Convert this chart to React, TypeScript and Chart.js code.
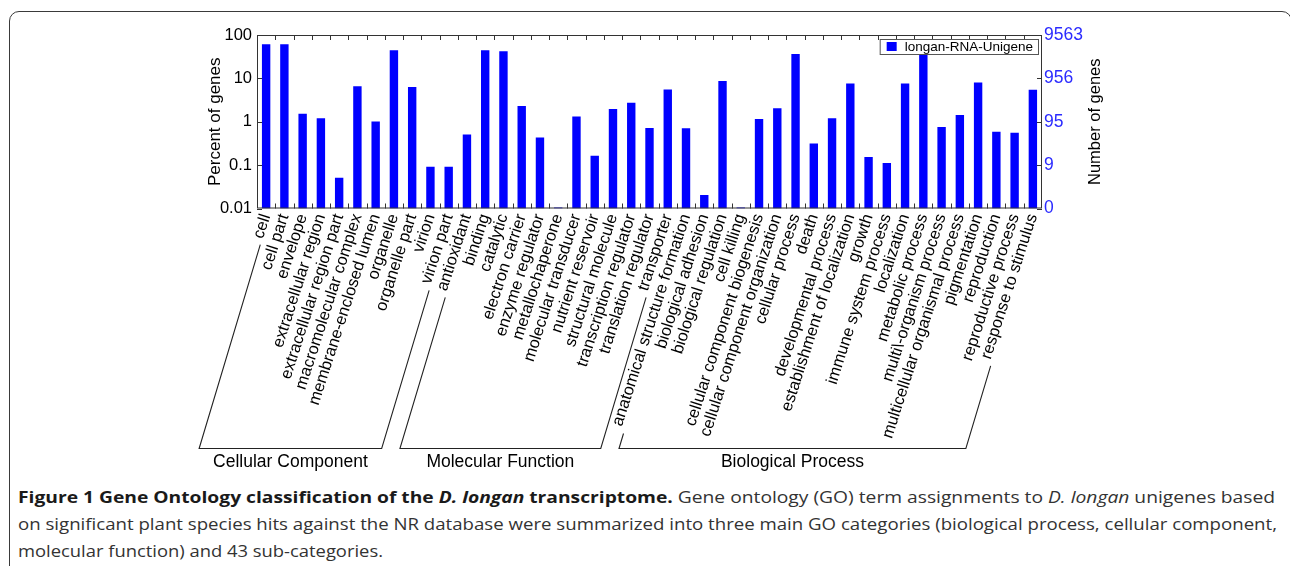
import React, { useEffect, useLayoutEffect, useRef } from 'react';
import { Chart, registerables } from 'chart.js';

Chart.register(...registerables);

// ---------- data ----------
const categories = [
  'cell', 'cell part', 'envelope', 'extracellular region', 'extracellular region part',
  'macromolecular complex', 'membrane-enclosed lumen', 'organelle', 'organelle part', 'virion',
  'virion part', 'antioxidant', 'binding', 'catalytic', 'electron carrier', 'enzyme regulator',
  'metallochaperone', 'molecular transducer', 'nutrient reservoir', 'structural molecule',
  'transcription regulator', 'translation regulator', 'transporter',
  'anatomical structure formation', 'biological adhesion', 'biological regulation', 'cell killing',
  'cellular component biogenesis', 'cellular component organization', 'cellular process', 'death',
  'developmental process', 'establishment of localization', 'growth', 'immune system process',
  'localization', 'metabolic process', 'multi\\-organism process', 'multicellular organismal process',
  'pigmentation', 'reproduction', 'reproductive process', 'response to stimulus',
];

const percentOfGenes = [
  61, 61, 1.52, 1.2, 0.051,
  6.6, 1.01, 44.6, 6.3, 0.092,
  0.092, 0.51, 44.6, 42.3, 2.31, 0.434,
  0.0105, 1.32, 0.165, 1.98,
  2.76, 0.72, 5.57,
  0.71, 0.0206, 8.67, 0.0105,
  1.16, 2.04, 36.7, 0.316,
  1.2, 7.64, 0.153, 0.112,
  7.64, 45, 0.76, 1.44,
  8.05, 0.59, 0.556, 5.48,
];

const seriesLabel = 'longan-RNA-Unigene';
const leftTickValues = [0.01, 0.1, 1, 10, 100];
const leftTickLabels = ['0.01', '0.1', '1', '10', '100'];
const rightTickLabels = ['0', '9', '95', '956', '9563'];
const groupNames = ['Cellular Component', 'Molecular Function', 'Biological Process'];
const groupFirstIndex = [0, 11, 23];
const groupLastIndex = [10, 22, 42];

// ---------- styles ----------
const FONT = '"Liberation Sans", Arial, Helvetica, sans-serif';
const BAR_BLUE = '#0000ff';
const AXIS_BLUE = '#2b2bff';
const INK = '#000000';
const FRAME = '#333333';
const LABEL_SIZE = 16.5;
const LABEL_ROTATION = 72;

const CANVAS_W = 1290;
const CANVAS_H = 480;

const decorPlugin = {
  id: 'decor',
  afterDraw(chart: any) {
    const { ctx, chartArea } = chart;
    const xs = chart.scales.x;
    const ys = chart.scales.y;
    const { left, right, top, bottom } = chartArea;
    ctx.save();

    // frame
    ctx.strokeStyle = FRAME;
    ctx.lineWidth = 1;
    ctx.strokeRect(left + 0.5, top + 0.5, right - left - 1, bottom - top - 1);

    // y ticks inward (both sides)
    ctx.beginPath();
    leftTickValues.forEach((v) => {
      const py = Math.round(ys.getPixelForValue(v)) + 0.5;
      ctx.moveTo(left, py);
      ctx.lineTo(left + 5, py);
      ctx.moveTo(right, py);
      ctx.lineTo(right - 5, py);
    });
    // x ticks inward, at category boundaries
    for (let i = 0; i < categories.length - 1; i++) {
      const px = Math.round((xs.getPixelForValue(i) + xs.getPixelForValue(i + 1)) / 2) + 0.5;
      ctx.moveTo(px, top);
      ctx.lineTo(px, top + 5);
      ctx.moveTo(px, bottom);
      ctx.lineTo(px, bottom - 5);
    }
    ctx.stroke();

    // legend
    ctx.font = `13.5px ${FONT}`;
    const tw = ctx.measureText(seriesLabel).width;
    const lw = tw + 30;
    const lh = 15;
    const lx = right - 4 - lw;
    const ly = top + 4;
    ctx.fillStyle = '#ffffff';
    ctx.fillRect(lx, ly, lw, lh);
    ctx.strokeStyle = '#555555';
    ctx.strokeRect(lx + 0.5, ly + 0.5, lw, lh);
    ctx.fillStyle = BAR_BLUE;
    ctx.fillRect(lx + 7, ly + 3, 10, 9);
    ctx.fillStyle = INK;
    ctx.textAlign = 'left';
    ctx.textBaseline = 'middle';
    ctx.fillText(seriesLabel, lx + 25, ly + lh / 2 + 1);

    // axis titles
    const midY = (top + bottom) / 2;
    ctx.fillStyle = INK;
    ctx.textAlign = 'center';
    ctx.textBaseline = 'middle';
    ctx.save();
    ctx.translate(left - 42, midY);
    ctx.rotate(-Math.PI / 2);
    ctx.font = `17px ${FONT}`;
    ctx.fillText('Percent of genes', 0, 0);
    ctx.restore();
    ctx.save();
    ctx.translate(right + 53, midY);
    ctx.rotate(-Math.PI / 2);
    ctx.font = `16.5px ${FONT}`;
    ctx.fillText('Number of genes', 0, 0);
    ctx.restore();

    // group brackets
    const slope = 0.3;
    const norm = Math.sqrt(1 + slope * slope);
    const ux = -slope / norm;
    const uy = 1 / norm;
    const baseY = bottom + 240;
    ctx.font = `${LABEL_SIZE}px ${FONT}`;
    ctx.strokeStyle = '#222222';
    ctx.lineWidth = 1.1;
    groupNames.forEach((name, g) => {
      const i0 = groupFirstIndex[g];
      const i1 = groupLastIndex[g];
      const x0 = xs.getPixelForValue(i0) + 5;
      const x1 = xs.getPixelForValue(i1) + 5;
      const w0 = ctx.measureText(categories[i0]).width + 13;
      const w1 = ctx.measureText(categories[i1]).width + 13;
      const t0 = { x: x0 + ux * w0, y: bottom + uy * w0 };
      const t1 = { x: x1 + ux * w1, y: bottom + uy * w1 };
      const b0 = { x: x0 - slope * (baseY - bottom), y: baseY };
      const b1 = { x: x1 - slope * (baseY - bottom), y: baseY };
      ctx.beginPath();
      ctx.moveTo(t0.x, t0.y);
      ctx.lineTo(b0.x, b0.y);
      ctx.lineTo(b1.x, b1.y);
      ctx.lineTo(t1.x, t1.y);
      ctx.stroke();
      ctx.save();
      ctx.font = `17.5px ${FONT}`;
      ctx.fillStyle = INK;
      ctx.textAlign = 'center';
      ctx.textBaseline = 'middle';
      ctx.fillText(name, (b0.x + b1.x) / 2, baseY + 14);
      ctx.restore();
    });

    ctx.restore();
  },
};

function GoChart() {
  const ref = useRef<HTMLCanvasElement | null>(null);
  useEffect(() => {
    if (!ref.current) return;
    const chart = new Chart(ref.current, {
      type: 'bar',
      data: {
        labels: categories,
        datasets: [
          {
            label: seriesLabel,
            data: percentOfGenes,
            backgroundColor: BAR_BLUE,
            borderWidth: 0,
            barPercentage: 0.46,
            categoryPercentage: 1,
            yAxisID: 'y',
          },
        ],
      },
      options: {
        animation: false,
        responsive: false,
        maintainAspectRatio: false,
        layout: { padding: { top: 35, left: 0, right: 0, bottom: 0 } },
        plugins: { legend: { display: false }, tooltip: { enabled: false }, title: { display: false } },
        scales: {
          x: {
            grid: { display: false, drawTicks: false },
            border: { display: false },
            ticks: {
              autoSkip: false,
              minRotation: LABEL_ROTATION,
              maxRotation: LABEL_ROTATION,
              padding: 3,
              color: INK,
              font: { family: FONT, size: LABEL_SIZE },
            },
            afterFit: (s: any) => {
              s.height = CANVAS_H - 208.5;
            },
          },
          y: {
            type: 'logarithmic',
            position: 'left',
            min: 0.01,
            max: 100,
            grid: { display: false, drawTicks: false },
            border: { display: false },
            afterBuildTicks: (s: any) => {
              s.ticks = leftTickValues.map((v) => ({ value: v }));
            },
            ticks: {
              padding: 5,
              color: INK,
              font: { family: FONT, size: 16.5 },
              callback: (_v: any, i: number) => leftTickLabels[i],
            },
            afterFit: (s: any) => {
              s.width = 257;
            },
          },
          y2: {
            type: 'logarithmic',
            position: 'right',
            min: 0.01,
            max: 100,
            grid: { display: false, drawTicks: false },
            border: { display: false },
            afterBuildTicks: (s: any) => {
              s.ticks = leftTickValues.map((v) => ({ value: v }));
            },
            ticks: {
              padding: 2,
              color: AXIS_BLUE,
              font: { family: FONT, size: 17.5 },
              callback: (_v: any, i: number) => rightTickLabels[i],
            },
            afterFit: (s: any) => {
              s.width = 248;
            },
          },
        },
      } as any,
      plugins: [decorPlugin],
    });
    return () => chart.destroy();
  }, []);
  return (
    <canvas
      ref={ref}
      width={CANVAS_W}
      height={CANVAS_H}
      style={{ position: 'absolute', left: 0, top: 0, width: CANVAS_W, height: CANVAS_H, display: 'block' }}
    />
  );
}

const captionTargetWidths = [1257, 1259, 365];

function Caption() {
  const refs = [useRef<HTMLDivElement | null>(null), useRef<HTMLDivElement | null>(null), useRef<HTMLDivElement | null>(null)];
  useLayoutEffect(() => {
    refs.forEach((r, i) => {
      const el = r.current;
      if (!el) return;
      el.style.transform = 'none';
      const w = el.getBoundingClientRect().width;
      if (w > 0) el.style.transform = `scaleX(${captionTargetWidths[i] / w})`;
    });
  }, []);
  const lineStyle: React.CSSProperties = {
    display: 'inline-block',
    whiteSpace: 'nowrap',
    transformOrigin: 'left center',
  };
  const rowStyle: React.CSSProperties = { height: 27, lineHeight: '27px', whiteSpace: 'nowrap' };
  return (
    <div
      style={{
        position: 'absolute',
        left: 18,
        top: 484,
        fontFamily: '"Open Sans", "Noto Sans", sans-serif',
        fontSize: 16,
        color: '#333333',
      }}
    >
      <div style={rowStyle}>
        <span ref={refs[0]} style={lineStyle}>
          <b style={{ color: '#1a1a1a' }}>
            Figure 1 Gene Ontology classification of the <i>D. longan</i> transcriptome.
          </b>{' '}
          Gene ontology (GO) term assignments to <i>D. longan</i> unigenes based
        </span>
      </div>
      <div style={rowStyle}>
        <span ref={refs[1]} style={lineStyle}>
          on significant plant species hits against the NR database were summarized into three main GO categories
          (biological process, cellular component,
        </span>
      </div>
      <div style={rowStyle}>
        <span ref={refs[2]} style={lineStyle}>
          molecular function) and 43 sub-categories.
        </span>
      </div>
    </div>
  );
}

export default function App() {
  return (
    <div
      style={{
        position: 'fixed',
        left: 0,
        top: 0,
        width: 1290,
        height: 566,
        overflow: 'hidden',
        background: '#ffffff',
      }}
    >
      <div
        style={{
          position: 'absolute',
          left: 9,
          top: 11,
          width: 1283,
          height: 700,
          boxSizing: 'border-box',
          border: '1.6px solid #3a3a3a',
          borderRadius: 10,
        }}
      />
      <GoChart />
      <Caption />
    </div>
  );
}
